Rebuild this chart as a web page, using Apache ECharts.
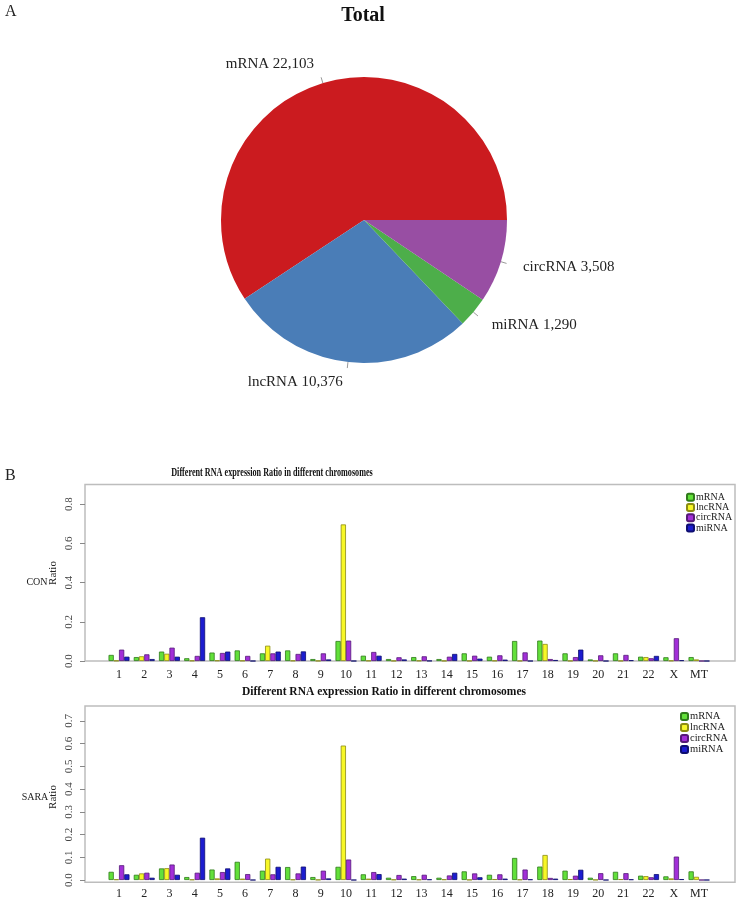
<!DOCTYPE html>
<html>
<head>
<meta charset="utf-8">
<script src="https://cdn.jsdelivr.net/npm/echarts@6/dist/echarts.min.js"></script>
<style>html,body{margin:0;padding:0;background:#fff;}#chart{width:740px;height:900px;}</style>
</head>
<body>
<div id="chart"></div>
<script>
// ---- Pie data (Total) ----
const pieNames = ['mRNA', 'lncRNA', 'miRNA', 'circRNA'];
const pieValues = [22103, 10376, 1290, 3508];
const pieColors = ['#cb1b1f', '#4a7db7', '#4dae4a', '#984ea3'];

// ---- Bar data ----
const chromosomes = ['1','2','3','4','5','6','7','8','9','10','11','12','13','14','15','16','17','18','19','20','21','22','X','MT'];
const seriesNames = ['mRNA', 'lncRNA', 'circRNA', 'miRNA'];

const conMRNA = [0.031,0.020,0.048,0.014,0.043,0.054,0.039,0.054,0.010,0.102,0.027,0.010,0.020,0.010,0.039,0.022,0.102,0.104,0.039,0.008,0.039,0.022,0.019,0.020];
const conLnc  = [0.002,0.024,0.037,0.002,0.003,0.002,0.078,0.002,0.001,0.696,0.002,0.001,0.002,0.001,0.001,0.002,0.001,0.087,0.001,0.001,0.001,0.020,0.002,0.008];
const conCirc = [0.058,0.034,0.068,0.026,0.041,0.026,0.039,0.036,0.039,0.104,0.046,0.019,0.024,0.022,0.027,0.029,0.044,0.010,0.020,0.029,0.031,0.014,0.116,0.000];
const conMi   = [0.022,0.010,0.022,0.223,0.048,0.000,0.048,0.049,0.008,0.000,0.027,0.008,0.001,0.036,0.012,0.007,0.000,0.005,0.058,0.000,0.004,0.026,0.004,0.000];

const saraMRNA = [0.036,0.023,0.051,0.013,0.046,0.080,0.041,0.057,0.013,0.058,0.025,0.010,0.017,0.010,0.038,0.023,0.097,0.059,0.041,0.010,0.036,0.019,0.016,0.038];
const saraLnc  = [0.003,0.029,0.052,0.002,0.007,0.006,0.094,0.002,0.001,0.591,0.006,0.002,0.002,0.003,0.001,0.004,0.002,0.110,0.004,0.001,0.004,0.017,0.007,0.014];
const saraCirc = [0.065,0.032,0.068,0.032,0.035,0.026,0.025,0.029,0.041,0.090,0.035,0.022,0.023,0.020,0.029,0.025,0.046,0.009,0.019,0.030,0.030,0.012,0.103,0.000];
const saraMi   = [0.025,0.010,0.023,0.186,0.051,0.000,0.058,0.059,0.007,0.000,0.026,0.006,0.003,0.032,0.012,0.006,0.003,0.006,0.045,0.000,0.003,0.026,0.004,0.000];

const conTicks = [0, 0.2, 0.4, 0.6, 0.8];
const saraTicks = [0, 0.1, 0.2, 0.3, 0.4, 0.5, 0.6, 0.7];

const barFill = ['#62e03a', '#f7f727', '#a22fd8', '#1c1ccf'];
const barBorder = ['#2f7a1b', '#8c8c12', '#561a78', '#0e0e70'];

const SERIF = '"Liberation Serif", "DejaVu Serif", serif';

const chart = echarts.init(document.getElementById('chart'));

function yAxisFor(gridIndex, max, ticks) {
  return {
    type: 'value', gridIndex: gridIndex, min: 0, max: max, offset: 21.4,
    axisLine: { show: false },
    axisTick: { show: true, length: 5, customValues: ticks, lineStyle: { color: '#888' } },
    axisLabel: { customValues: ticks, rotate: 90, margin: 10, fontFamily: SERIF, fontSize: 11, color: '#444',
      formatter: v => v.toFixed(1) },
    splitLine: { show: false }
  };
}
function xAxisFor(gridIndex) {
  return {
    type: 'category', gridIndex: gridIndex, data: chromosomes,
    axisLine: { show: false }, axisTick: { show: false },
    axisLabel: { margin: 8, fontFamily: SERIF, fontSize: 12, color: '#222', interval: 0 }
  };
}
function barSeries(axisIdx, arrays) {
  return arrays.map((arr, i) => ({
    type: 'bar', name: seriesNames[i], xAxisIndex: axisIdx, yAxisIndex: axisIdx,
    data: arr, barGap: '0%', barCategoryGap: '17%',
    itemStyle: { color: barFill[i], borderColor: barBorder[i], borderWidth: 0.8 },
    emphasis: { disabled: true }
  }));
}
function ratioLabel(y) {
  return { type: 'text', x: 53, y: y, rotation: Math.PI / 2,
    style: { text: 'Ratio', font: '11px ' + SERIF, fill: '#222', textAlign: 'center', textVerticalAlign: 'middle' } };
}

const option = {
  animation: false,
  backgroundColor: '#fff',
  graphic: [
    { type: 'text', x: 5, y: 4, style: { text: 'A', font: '16px ' + SERIF, fill: '#222' } },
    { type: 'text', x: 363, y: 16, style: { text: 'Total', font: 'bold 20px ' + SERIF, fill: '#111', textAlign: 'center', textVerticalAlign: 'middle' } },
    { type: 'text', x: 5, y: 468, style: { text: 'B', font: '16px ' + SERIF, fill: '#222' } },
    { type: 'text', x: 272, y: 473, scaleX: 0.68, style: { text: 'Different RNA expression Ratio in different chromosomes', font: 'bold 12px ' + SERIF, fill: '#111', textAlign: 'center', textVerticalAlign: 'middle' } },
    { type: 'text', x: 384, y: 692, style: { text: 'Different RNA expression Ratio in different chromosomes', font: 'bold 11.5px ' + SERIF, fill: '#111', textAlign: 'center', textVerticalAlign: 'middle' } },
    { type: 'text', x: 37, y: 582, style: { text: 'CON', font: '10px ' + SERIF, fill: '#222', textAlign: 'center', textVerticalAlign: 'middle' } },
    { type: 'text', x: 35, y: 797, style: { text: 'SARA', font: '10px ' + SERIF, fill: '#222', textAlign: 'center', textVerticalAlign: 'middle' } },
    ratioLabel(573),
    ratioLabel(797)
  ],
  legend: [
    { data: seriesNames, orient: 'vertical', left: 686, top: 492, padding: 0, itemWidth: 7, itemHeight: 7, itemGap: 0,
      textStyle: { fontFamily: SERIF, fontSize: 10, lineHeight: 10.3, color: '#222', padding: [0, 0, 0, -3] }, selectedMode: false },
    { data: seriesNames, orient: 'vertical', left: 680, top: 711, padding: 0, itemWidth: 7, itemHeight: 7, itemGap: 0,
      textStyle: { fontFamily: SERIF, fontSize: 10.5, lineHeight: 10.7, color: '#222', padding: [0, 0, 0, -3] }, selectedMode: false }
  ],
  grid: [
    { left: 106.4, right: 28.4, top: 484.4, bottom: 239 },
    { left: 106.4, right: 28.4, top: 706, bottom: 17.7 },
    { left: 85, top: 484.4, width: 650, height: 176.6, show: true, borderColor: '#bdbdbd', borderWidth: 1.5, backgroundColor: 'transparent' },
    { left: 85, top: 706, width: 650, height: 176.3, show: true, borderColor: '#bdbdbd', borderWidth: 1.5, backgroundColor: 'transparent' }
  ],
  xAxis: [xAxisFor(0), xAxisFor(1)],
  yAxis: [yAxisFor(0, 0.9, conTicks), yAxisFor(1, 0.765, saraTicks)],
  series: [
    {
      type: 'pie', name: 'Total', center: [364, 220], radius: 143,
      startAngle: 0, clockwise: false, avoidLabelOverlap: false,
      data: pieNames.map((n, i) => ({ name: n, value: pieValues[i], itemStyle: { color: pieColors[i] } })),
      label: { show: true, fontFamily: SERIF, fontSize: 15, color: '#222',
        formatter: p => p.name + ' ' + p.value.toLocaleString('en-US'), distanceToLabelLine: 3 },
      labelLine: { show: true, length: 20, length2: 0, lineStyle: { color: '#999', width: 1 } },
      labelLayout: function (params) {
        const p = params.labelLinePoints;
        if (!p || p.length < 2) return {};
        const dx = p[1][0] - p[0][0], dy = p[1][1] - p[0][1];
        const len = Math.hypot(dx, dy) || 1;
        const s = 6 / len;
        const q = [p[0][0] + dx * s, p[0][1] + dy * s];
        return { labelLinePoints: [p[0], q, q] };
      },
      emphasis: { disabled: true }
    },
    ...barSeries(0, [conMRNA, conLnc, conCirc, conMi]),
    ...barSeries(1, [saraMRNA, saraLnc, saraCirc, saraMi])
  ]
};
chart.setOption(option);
</script>
</body>
</html>
